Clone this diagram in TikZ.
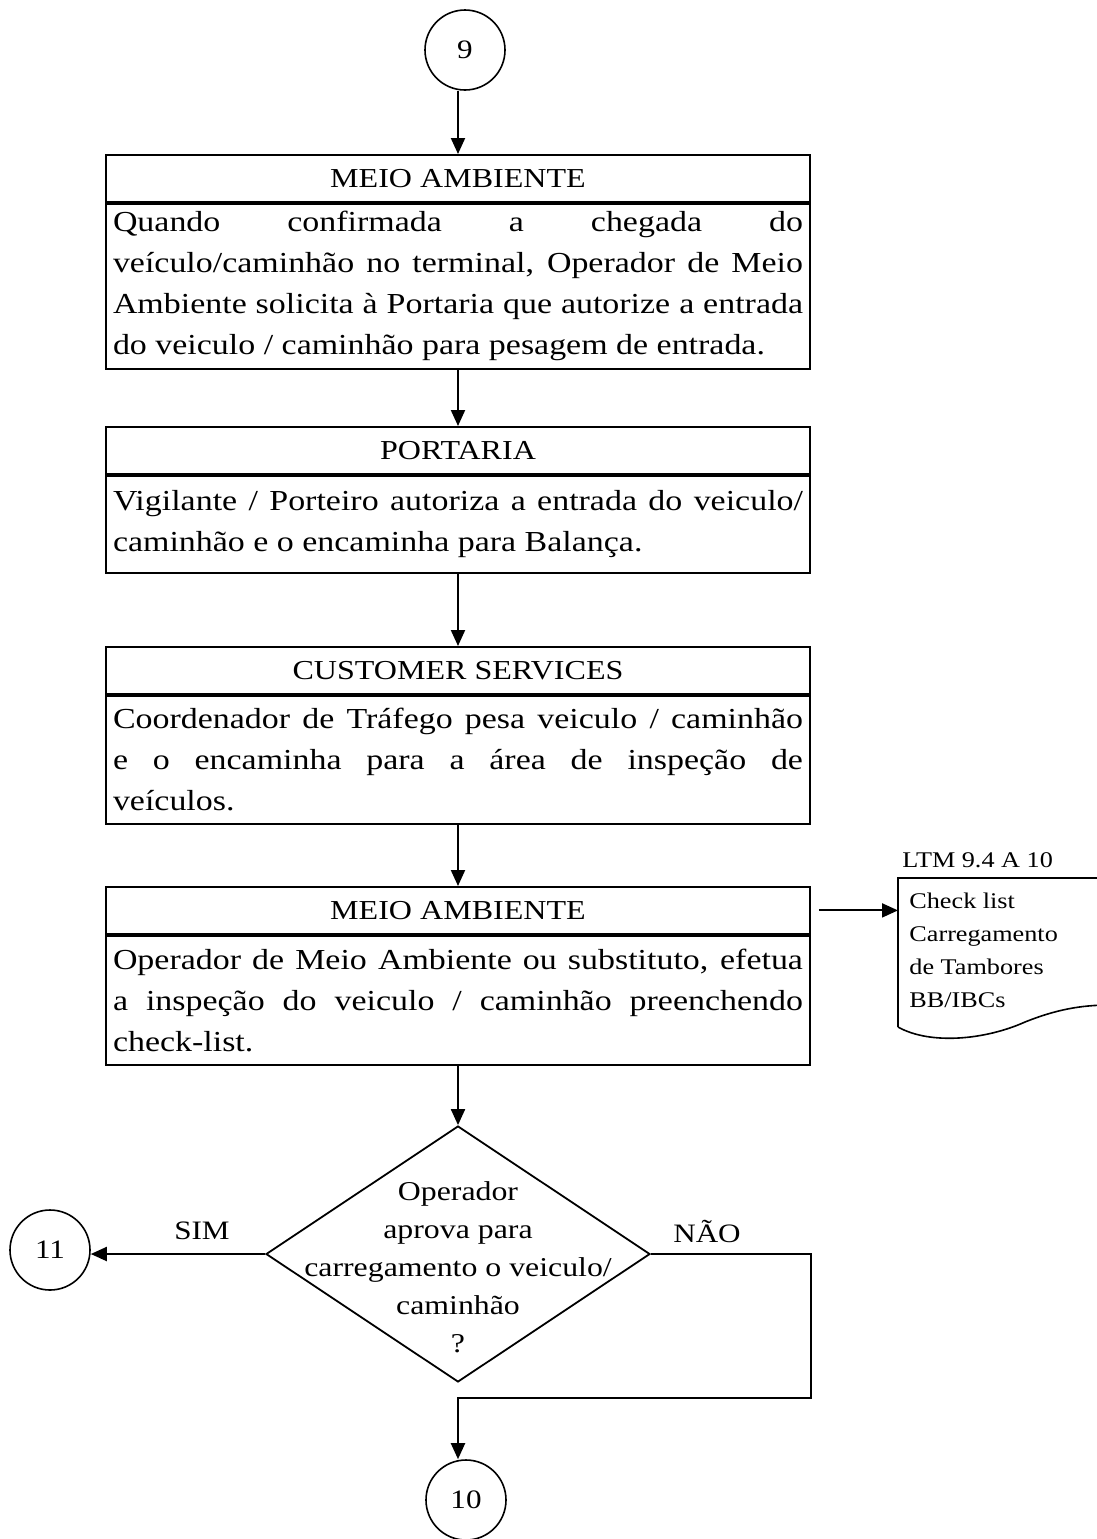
\documentclass[tikz,border=0pt]{standalone}
\usepackage{fontspec}
\setmainfont{Liberation Serif}[FakeStretch=1.17]
\usetikzlibrary{positioning,shapes.geometric,arrows.meta}

\newcommand{\boxtxt}{\fontsize{14.5}{20.5}\selectfont\hyphenpenalty=10000\exhyphenpenalty=10000 }
\newcommand{\headtxt}{\fontsize{13.7}{16}\selectfont}
\newcommand{\dectxt}{\fontsize{13.6}{19}\selectfont}
\newcommand{\lbltxt}{\fontsize{13.3}{16}\selectfont}
\newcommand{\doctxt}{\fontsize{11.2}{16.5}\selectfont}

\tikzset{
  flow/.style={line width=1pt,-{Triangle[length=8pt,width=7pt]}},
  conn/.style={circle,draw,line width=0.8pt,minimum size=40pt,inner sep=0pt,font=\lbltxt},
  headbox/.style={draw,line width=0.9pt,minimum width=352pt,minimum height=23.5pt,inner sep=0pt,font=\headtxt},
  bodybox/.style={draw,line width=0.9pt,text width=345pt,inner xsep=3.5pt,inner ysep=0pt,align=justify,font=\boxtxt},
  decbox/.style={draw,diamond,line width=0.9pt,minimum width=192pt,minimum height=128pt,inner sep=0pt},
  lbl/.style={inner sep=0pt,font=\lbltxt}
}

\begin{document}
\begin{tikzpicture}[x=0.5pt,y=-0.5pt]
  \useasboundingbox (0,0) rectangle (1097,1539);

  % connectors
  \node[conn] (c9) at (465,50) {9};
  \node[conn] (c11) at (50,1250) {11};
  \node[conn] (c10) at (466,1500) {10};

  % MEIO AMBIENTE
  \node[headbox,anchor=north] (amb1h) at (458,154) {MEIO AMBIENTE};
  \node[bodybox,minimum height=82.5pt,below=0pt of amb1h] (amb1) {Quando confirmada a chegada do\linebreak
    veículo/caminhão no terminal, Operador de Meio\linebreak
    Ambiente solicita à Portaria que autorize a entrada\linebreak
    do veiculo / caminhão para pesagem de entrada.};

  % PORTARIA
  \node[headbox,anchor=north] (porth) at (458,426) {PORTARIA};
  \node[bodybox,minimum height=48.5pt,below=0pt of porth] (port) {Vigilante / Porteiro autoriza a entrada do veiculo/\linebreak
    caminhão e o encaminha para Balança.};

  % CUSTOMER SERVICES
  \node[headbox,anchor=north] (custh) at (458,646) {CUSTOMER SERVICES};
  \node[bodybox,minimum height=64pt,below=0pt of custh] (cust) {Coordenador de Tráfego pesa veiculo / caminhão\linebreak
    e o encaminha para a área de inspeção de\linebreak
    veículos.};

  % MEIO AMBIENTE (inspecao)
  \node[headbox,anchor=north] (amb2h) at (458,886) {MEIO AMBIENTE};
  \node[bodybox,minimum height=64.5pt,below=0pt of amb2h] (amb2) {Operador de Meio Ambiente ou substituto, efetua\linebreak
    a inspeção do veiculo / caminhão preenchendo\linebreak
    check-list.};

  % check list document
  \coordinate (doctl) at (898,878);
  \draw[line width=0.8pt] (898,1027) -- (doctl) -- (1110,878);
  \draw[line width=0.8pt] (898,1027) .. controls (930,1045) and (985,1040) .. (1025,1022)
    .. controls (1055,1010) and (1080,1005) .. (1110,1005);
  \node[lbl,font=\doctxt,anchor=west] (ltm) at (902,860) {LTM 9.4 A 10};
  \node[lbl,font=\doctxt,align=left,anchor=north west] (chk) at (909,893) {Check list\\Carregamento\\de Tambores\\BB/IBCs};

  % decision
  \node[decbox] (dec) at (458,1254) {};
  \node[lbl,font=\dectxt,align=center] (dectext) at (458,1267) {Operador\\aprova para\\carregamento o veiculo/\\caminhão\\?};
  \node[lbl] (sim) at (202,1231) {SIM};
  \node[lbl] (nao) at (707,1231) {NÃO};
  \coordinate (nbend) at (458,1398);

  \draw[flow] (amb1h.north |- c9.south) -- (amb1h.north);
  \draw[flow] (amb1.south) -- (porth.north);
  \draw[flow] (port.south) -- (custh.north);
  \draw[flow] (cust.south) -- (amb2h.north);
  \draw[flow] ([xshift=4pt]amb2h.east) -- (amb2h.east -| doctl);
  \draw[flow] (amb2.south) -- (dec.north);
  \draw[flow] (dec.west) -- (dec.west -| c11.east);
  \draw[flow] (dec.east) -- (dec.east -| amb2.east) -- (amb2.east |- nbend) -- (nbend) -- (nbend |- c10.north);
\end{tikzpicture}
\end{document}
